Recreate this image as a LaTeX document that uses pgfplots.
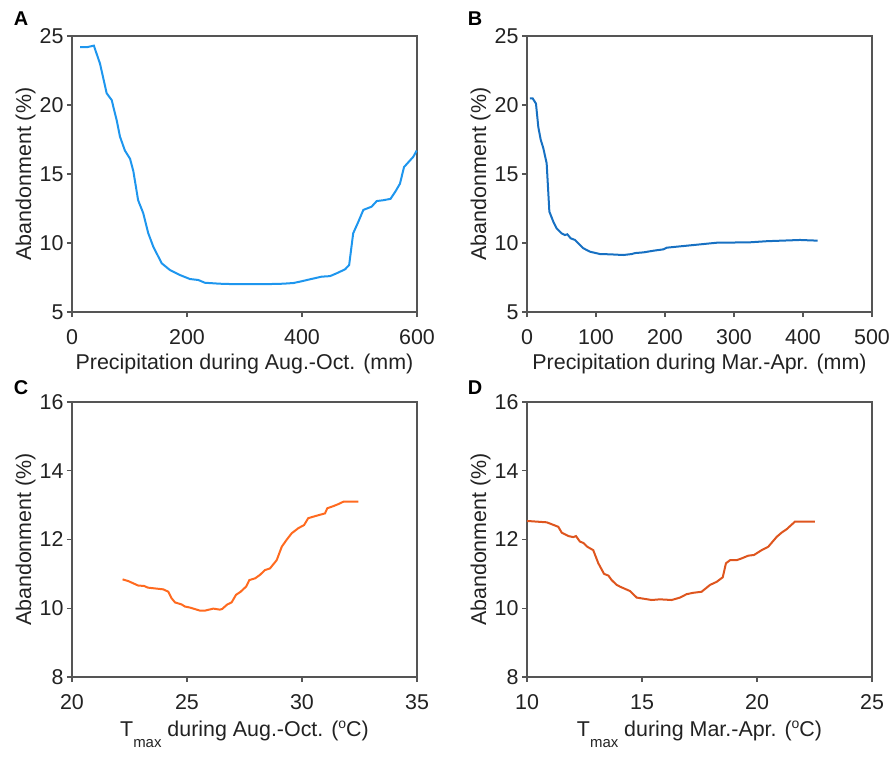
\documentclass[border=0pt]{standalone}
\usepackage{fontspec}
\setmainfont{Liberation Sans}
\usepackage{pgfplots}
\pgfplotsset{compat=1.18}
\definecolor{cA}{HTML}{1E96EE}
\definecolor{cB}{HTML}{1770C2}
\definecolor{cC}{HTML}{FF6A1F}
\definecolor{cD}{HTML}{DE551E}
\definecolor{axgrey}{HTML}{555555}
\definecolor{txt}{HTML}{222222}
\newcommand{\Tmax}{T\raisebox{-11bp}{\fontsize{15}{16}\selectfont max}}
\newcommand{\degC}{(\raisebox{8bp}{\fontsize{14}{14}\selectfont o}C)}
\pgfplotsset{
  panel/.style={
    scale only axis, width=345bp, height=276bp,
    axis line style={axgrey, line width=1.1bp},
    tick style={axgrey, line width=1.1bp},
    tick align=outside, major tick length=5bp,
    xtick pos=left, ytick pos=left,
    /pgf/number format/assume math mode=true,
    tick label style={font=\fontsize{21.5}{24}\selectfont, text=txt},
    label style={font=\fontsize{21.5}{24}\selectfont, text=txt},
    xticklabel style={yshift=-9.5bp},
    yticklabel style={xshift=0bp},
    ylabel={Abandonment (\%)},
    ylabel style={at={([xshift=-41bp]axis description cs:0,0.5)}, anchor=base},
    clip=false,
  },
  xlabA/.style={xlabel style={at={([yshift=-57bp]axis description cs:0.5,0)}, anchor=base}},
  xlabC/.style={xlabel style={at={([yshift=-59bp]axis description cs:0.5,0)}, anchor=base}},
}
\begin{document}
\begin{tikzpicture}
\useasboundingbox (0,0) rectangle (893bp,-757bp);
% Panel A
\begin{axis}[panel, xlabA, at={(72bp,-312bp)}, anchor=south west,
  xmin=0, xmax=600, ymin=5, ymax=25, xtick={0,200,400,600}, ytick={5,10,15,20,25},
  xlabel={Precipitation during Aug.-Oct. (mm)}]
\addplot[cA, line width=2bp] coordinates {
(14,24.2)(27,24.2)(38,24.3)(48.7,23.0)(60.3,20.85)(69,20.36)(77.7,18.9)(83.5,17.7)
(92,16.7)(101,16.1)(106.7,15.2)(115,13.1)(124,12.15)(132.7,10.7)(141.4,9.73)(156,8.53)
(170.4,8.04)(187.8,7.68)(205,7.39)(219.7,7.32)(231,7.12)(257,7.05)(280.6,7.02)(338.6,7.02)
(367,7.05)(385,7.1)(396.5,7.2)(414,7.37)(434,7.56)(448.7,7.6)(460,7.8)(474.8,8.09)(482,8.4)
(489,10.7)(498,11.54)(506.7,12.4)(521,12.63)(530,13.04)(541.5,13.1)(554,13.2)(562,13.7)
(570.4,14.3)(577.4,15.5)(593.6,16.25)(599.5,16.7)};
\end{axis}
\node[font=\bfseries\fontsize{20}{22}\selectfont, text=black] at (21bp,-19bp) {A};
% Panel B
\begin{axis}[panel, xlabA, at={(527bp,-312bp)}, anchor=south west,
  xmin=0, xmax=500, ymin=5, ymax=25, xtick={0,100,200,300,400,500}, ytick={5,10,15,20,25},
  xlabel={Precipitation during Mar.-Apr. (mm)}]
\addplot[cB, line width=2bp] coordinates {
(4.3,20.48)(8.2,20.48)(13,20.1)(16.4,18.4)(19.8,17.5)(23.7,16.86)(28.5,15.77)(32.4,12.27)
(38.2,11.54)(43,11.06)(50.2,10.7)(55,10.58)(58.5,10.63)(63.3,10.34)(69.6,10.22)(74.4,9.98)
(81.6,9.62)(91.3,9.37)(105.8,9.2)(120,9.18)(139.6,9.13)(151.7,9.2)(156.5,9.27)(168.6,9.32)
(183,9.44)(197.6,9.54)(202.5,9.66)(226.5,9.78)(250.7,9.9)(274.9,10.02)(323,10.05)
(347.4,10.13)(395.7,10.22)(421.2,10.17)};
\end{axis}
\node[font=\bfseries\fontsize{20}{22}\selectfont, text=black] at (475bp,-19bp) {B};
% Panel C
\begin{axis}[panel, xlabC, at={(72bp,-677bp)}, anchor=south west, height=275bp,
  xmin=20, xmax=35, ymin=8, ymax=16, xtick={20,25,30,35}, ytick={8,10,12,14,16},
  xlabel={\Tmax{} during Aug.-Oct. \degC}]
\addplot[cC, line width=2bp] coordinates {
(22.2,10.84)(22.45,10.79)(22.88,10.66)(23.13,10.65)(23.3,10.6)(23.97,10.55)(24.19,10.48)
(24.33,10.29)(24.48,10.17)(24.77,10.11)(24.91,10.05)(25.13,10.02)(25.57,9.93)(25.78,9.93)
(26.14,9.99)(26.43,9.96)(26.53,9.98)(26.75,10.11)(26.94,10.17)(27.13,10.39)(27.33,10.48)
(27.57,10.63)(27.71,10.82)(27.96,10.87)(28.17,10.97)(28.39,11.11)(28.61,11.16)(28.9,11.4)
(29.12,11.79)(29.33,11.99)(29.55,12.18)(29.84,12.33)(30.09,12.42)(30.27,12.62)(30.57,12.68)
(31.0,12.76)(31.1,12.91)(31.36,12.97)(31.58,13.03)(31.8,13.1)(32.45,13.1)};
\end{axis}
\node[font=\bfseries\fontsize{20}{22}\selectfont, text=black] at (21bp,-388bp) {C};
% Panel D
\begin{axis}[panel, xlabC, at={(527bp,-677bp)}, anchor=south west, height=275bp,
  xmin=10, xmax=25, ymin=8, ymax=16, xtick={10,15,20,25}, ytick={8,10,12,14,16},
  xlabel={\Tmax{} during Mar.-Apr. \degC}]
\addplot[cD, line width=2bp] coordinates {
(10,12.54)(10.86,12.5)(11.36,12.37)(11.51,12.2)(11.8,12.1)(12.01,12.07)(12.13,12.1)
(12.3,11.94)(12.45,11.9)(12.62,11.79)(12.88,11.69)(13.1,11.31)(13.35,11.0)(13.54,10.95)
(13.68,10.82)(13.9,10.68)(14.04,10.63)(14.48,10.5)(14.77,10.31)(15.42,10.24)(15.78,10.26)
(16.29,10.24)(16.65,10.31)(16.94,10.41)(17.23,10.45)(17.59,10.48)(17.96,10.68)(18.25,10.77)
(18.51,10.9)(18.65,11.31)(18.83,11.4)(19.12,11.4)(19.33,11.45)(19.62,11.53)(19.87,11.55)
(20.2,11.69)(20.49,11.79)(20.86,12.08)(21.07,12.2)(21.29,12.3)(21.65,12.52)(22.52,12.52)};
\end{axis}
\node[font=\bfseries\fontsize{20}{22}\selectfont, text=black] at (475bp,-388bp) {D};
\end{tikzpicture}
\end{document}
